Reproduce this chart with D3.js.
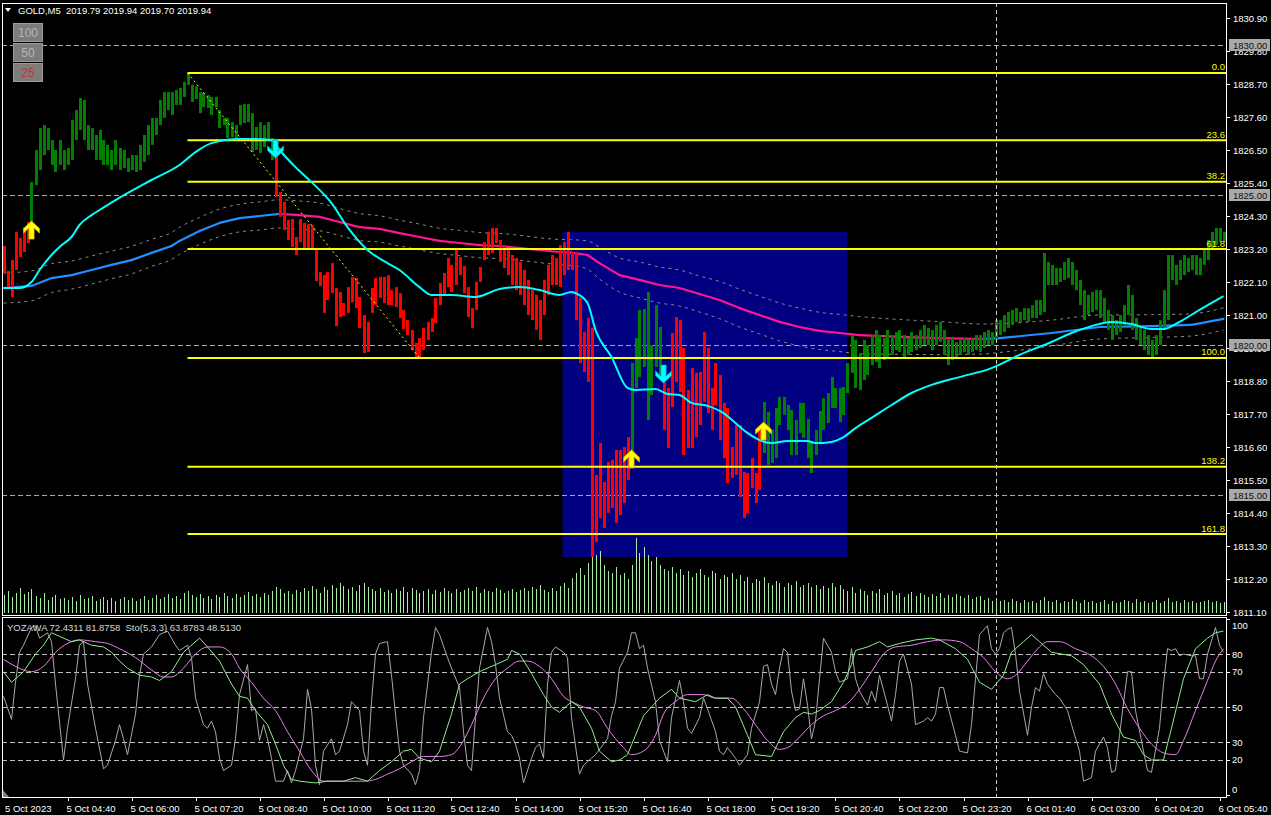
<!DOCTYPE html>
<html><head><meta charset="utf-8">
<script src="https://cdn.jsdelivr.net/npm/d3@7"></script>
<style>html,body{margin:0;padding:0;background:#000;overflow:hidden}svg{display:block}text{font-family:"Liberation Sans",Arial,sans-serif}</style>
</head><body><svg id="c" width="1271" height="815"></svg>
<script>
// ---------------- DATA ----------------
const symbolHeader = "GOLD,M5  2019.79 2019.94 2019.70 2019.94";
const oscHeader = "YOZAWA 72.4311 81.8758  Sto(5,3,3) 63.8783 48.5130";
const timeLabels = ["5 Oct 2023","5 Oct 04:40","5 Oct 06:00","5 Oct 07:20","5 Oct 08:40","5 Oct 10:00","5 Oct 11:20","5 Oct 12:40","5 Oct 14:00","5 Oct 15:20","5 Oct 16:40","5 Oct 18:00","5 Oct 19:20","5 Oct 20:40","5 Oct 22:00","5 Oct 23:20","6 Oct 01:40","6 Oct 03:00","6 Oct 04:20","6 Oct 05:40"];
const timeLabelIdx = [0,16,32,48,64,80,96,112,128,144,160,176,192,208,224,240,256,272,288,304];
const priceTicks = [1811.10,1812.20,1813.30,1814.40,1815.50,1816.60,1817.70,1818.80,1819.90,1821.00,1822.10,1823.20,1824.30,1825.40,1826.50,1827.60,1828.70,1829.80,1830.90];
const priceMarks = [1830.00,1825.00,1820.00,1815.00];
const oscLabels = [100,80,70,50,30,20,0];
const oscLevels = [80,70,50,30,20];
const daySeparatorIdx = 248;

const barHigh = [
1823.30,1822.47,1822.83,1823.77,1823.57,1823.93,1824.10,1825.43,1826.50,1827.23,
1827.33,1827.23,1826.83,1826.50,1826.83,1826.50,1826.57,1827.50,1827.83,1828.23,
1828.17,1827.33,1827.23,1827.00,1827.17,1826.83,1826.67,1826.50,1826.83,1826.57,
1826.50,1826.23,1826.33,1826.33,1826.67,1827.00,1827.33,1827.57,1827.57,1828.17,
1828.43,1828.43,1828.43,1828.50,1828.57,1828.77,1829.07,1828.67,1828.63,1828.43,
1828.40,1828.33,1828.27,1828.27,1827.83,1827.57,1827.57,1827.43,1827.33,1828.00,
1828.03,1828.03,1827.73,1827.27,1827.43,1827.33,1827.43,1826.90,1826.27,1825.10,
1824.77,1824.17,1824.20,1823.60,1824.20,1824.07,1824.03,1824.00,1823.17,1822.43,
1822.33,1822.43,1822.73,1821.90,1821.77,1821.40,1821.93,1822.27,1822.23,1821.60,
1821.00,1820.77,1821.90,1822.23,1822.27,1822.27,1822.33,1821.83,1821.93,1821.73,
1821.17,1820.83,1820.50,1820.07,1820.23,1820.57,1820.77,1820.90,1821.57,1822.07,
1822.40,1822.90,1822.67,1823.23,1822.93,1822.63,1821.93,1821.23,1822.10,1822.60,
1823.43,1823.77,1823.90,1823.90,1823.50,1823.33,1823.17,1823.00,1822.90,1822.77,
1822.50,1822.17,1821.83,1821.67,1821.50,1822.17,1822.67,1823.00,1822.90,1823.33,
1823.43,1823.77,1823.10,1823.10,1821.57,1820.43,1820.90,1820.57,1815.67,1816.73,
1815.43,1816.10,1816.17,1816.50,1816.50,1816.60,1816.93,1819.40,1820.23,1821.17,
1821.20,1821.77,1820.00,1821.33,1820.60,1818.77,1818.57,1820.40,1820.93,1820.83,
1819.90,1818.50,1819.23,1819.07,1819.10,1820.43,1819.90,1818.57,1819.40,1819.00,
1818.07,1817.90,1816.60,1817.33,1817.33,1815.77,1815.73,1816.23,1815.73,1817.17,
1818.10,1817.77,1817.17,1817.90,1818.27,1818.27,1818.00,1817.83,1817.50,1818.07,
1818.07,1817.53,1816.77,1817.17,1817.80,1818.23,1818.40,1818.93,1818.57,1818.57,
1818.60,1819.40,1820.33,1820.17,1819.73,1820.17,1820.00,1820.33,1820.50,1820.33,
1820.23,1820.50,1820.33,1820.43,1820.50,1820.33,1820.23,1820.43,1820.33,1820.50,
1820.67,1820.57,1820.50,1820.67,1820.77,1820.50,1820.17,1820.23,1820.10,1820.17,
1820.23,1820.17,1820.23,1820.33,1820.33,1820.43,1820.50,1820.43,1820.83,1820.83,
1821.00,1821.10,1821.17,1821.23,1821.10,1821.23,1821.23,1821.33,1821.50,1821.50,
1823.07,1822.77,1822.67,1822.57,1822.57,1822.77,1822.90,1822.77,1822.50,1822.17,
1821.83,1821.67,1821.77,1821.83,1821.83,1821.57,1821.17,1821.00,1820.83,1821.00,
1821.33,1822.00,1821.67,1820.90,1820.67,1820.50,1820.33,1820.17,1820.33,1820.83,
1821.83,1823.00,1823.00,1822.67,1822.83,1823.00,1822.90,1823.00,1823.00,1822.90,
1823.17,1823.50,1823.77,1823.90,1823.90,1823.77];
const barLow = [
1822.40,1821.90,1821.60,1822.50,1822.93,1823.10,1823.40,1824.10,1825.33,1825.83,
1826.33,1826.50,1826.00,1825.77,1826.00,1825.83,1826.00,1826.17,1826.83,1827.17,
1826.83,1826.50,1826.50,1826.17,1826.17,1826.00,1826.00,1825.83,1826.00,1825.83,
1825.90,1825.77,1825.83,1825.77,1825.83,1826.10,1826.33,1826.67,1827.00,1827.33,
1827.57,1827.83,1827.67,1828.00,1828.00,1828.27,1828.67,1828.10,1828.20,1827.73,
1827.93,1827.90,1827.67,1827.93,1827.23,1827.33,1826.90,1826.93,1826.90,1827.33,
1827.40,1827.43,1826.43,1826.50,1826.40,1826.60,1826.83,1826.17,1824.93,1824.27,
1823.83,1823.50,1823.27,1823.00,1823.43,1823.17,1823.23,1823.17,1822.13,1821.97,
1821.07,1821.50,1821.73,1820.63,1820.93,1820.97,1821.07,1821.43,1821.23,1820.57,
1819.73,1819.77,1821.07,1821.33,1821.57,1821.40,1821.33,1821.33,1821.27,1820.90,
1820.53,1820.33,1819.83,1819.60,1819.60,1819.83,1820.17,1820.43,1820.73,1821.33,
1821.67,1821.93,1821.77,1822.00,1822.33,1821.73,1820.93,1820.57,1821.17,1822.10,
1822.83,1823.00,1823.07,1823.40,1822.77,1822.57,1822.33,1822.00,1821.83,1821.67,
1821.33,1821.00,1820.83,1820.50,1820.17,1821.00,1821.67,1822.00,1822.00,1821.93,
1822.33,1822.50,1822.50,1820.83,1819.40,1819.10,1818.77,1812.93,1813.43,1814.23,
1813.90,1814.40,1814.57,1814.07,1814.33,1814.73,1815.50,1816.40,1818.57,1818.93,
1819.27,1817.50,1818.33,1819.27,1818.93,1817.17,1816.57,1817.93,1818.77,1818.43,
1816.33,1816.57,1816.57,1816.93,1817.33,1818.10,1817.73,1817.17,1818.00,1816.83,
1816.23,1815.40,1815.57,1815.67,1814.93,1814.23,1814.40,1815.23,1814.73,1815.17,
1816.40,1816.00,1816.07,1816.23,1817.33,1817.67,1817.17,1816.33,1816.33,1817.07,
1816.90,1816.23,1815.73,1816.33,1816.73,1817.17,1817.40,1817.90,1817.90,1817.43,
1817.67,1818.40,1819.07,1818.57,1818.50,1818.83,1819.00,1819.33,1819.43,1819.23,
1819.50,1819.57,1819.67,1819.83,1819.77,1819.57,1819.67,1819.77,1819.83,1819.90,
1820.00,1820.00,1819.83,1820.00,1820.10,1819.67,1819.33,1819.50,1819.57,1819.67,
1819.77,1819.67,1819.77,1819.83,1819.77,1819.90,1820.00,1820.00,1820.17,1820.33,
1820.43,1820.57,1820.67,1820.77,1820.77,1820.83,1820.77,1820.90,1820.90,1821.00,
1821.10,1822.00,1822.00,1822.00,1822.10,1822.17,1822.23,1822.00,1821.83,1821.33,
1820.83,1821.00,1821.10,1821.17,1820.90,1820.77,1820.50,1820.17,1820.33,1820.43,
1820.67,1821.00,1820.50,1820.17,1820.00,1819.83,1819.67,1819.57,1819.67,1820.00,
1820.50,1820.83,1822.17,1822.00,1822.17,1822.33,1822.43,1822.50,1822.33,1822.33,
1822.67,1822.83,1823.17,1823.33,1823.43,1823.43];
// trend colour segments: [first bar index, 1 = up (green), -1 = down (red)]
const trendSegments = [[0,-1],[7,1],[68,-1],[157,1],[165,-1],[190,1]];

const volumes = [
18,22,16,20,25,19,21,24,17,15,20,13,16,18,14,15,
13,16,12,18,14,15,17,12,14,16,13,15,12,14,16,13,
15,12,14,17,13,15,18,14,16,19,15,17,14,20,22,18,
16,19,15,17,14,18,16,20,17,15,19,16,18,21,17,19,
16,20,18,22,26,24,20,22,19,23,21,25,22,27,24,20,
26,23,28,25,30,27,24,26,22,28,30,26,24,22,25,21,
23,20,24,22,26,21,25,23,20,22,24,19,23,21,25,22,
20,24,21,23,25,22,26,20,24,22,21,25,23,20,22,24,
21,23,25,22,26,24,28,23,21,25,22,27,30,25,35,40,
45,38,50,72,58,62,48,42,40,46,38,40,34,48,75,60,
66,58,52,56,48,44,42,46,40,44,38,42,36,40,44,38,
36,42,40,34,38,36,40,34,38,32,36,30,34,32,36,30,
28,32,30,26,30,28,32,26,28,30,26,28,24,27,25,30,
26,28,24,22,26,20,24,22,18,22,20,24,18,20,22,18,
20,16,19,21,17,20,18,16,19,17,20,15,18,16,19,17,
15,18,14,16,17,13,15,12,14,12,13,11,14,12,10,13,
11,12,10,13,16,12,11,13,10,12,11,14,12,10,13,11,
12,10,11,13,9,12,10,11,13,12,10,14,11,12,10,11,
13,10,12,15,11,12,10,13,11,12,10,11,12,13,11,12,
10,11];

// fast moving average (cyan): [bar index, price]
const fastMA = [[0,1821.90],[4,1821.90],[7,1822.10],[9,1822.50],[12,1823.00],[14,1823.27],[17,1823.60],[19,1824.00],[22,1824.33],[24,1824.50],[28,1824.83],[37,1825.50],[44,1826.00],[48,1826.43],[52,1826.73],[59,1826.87],[62,1826.87],[67,1826.83],[69,1826.50],[73,1825.93],[77,1825.43],[82,1824.73],[86,1823.93],[91,1823.17],[96,1822.73],[99,1822.50],[104,1821.93],[107,1821.67],[112,1821.67],[118,1821.60],[122,1821.77],[124,1821.87],[129,1821.93],[134,1821.83],[139,1821.67],[142,1821.77],[143,1821.73],[146,1821.40],[148,1820.50],[152,1819.60],[156,1818.57],[158,1818.50],[163,1818.53],[166,1818.37],[169,1818.33],[172,1818.07],[176,1817.97],[180,1817.73],[183,1817.40],[186,1817.07],[189,1816.83],[192,1816.73],[196,1816.80],[201,1816.80],[203,1816.73],[207,1816.77],[210,1816.93],[213,1817.23],[217,1817.57],[222,1818.00],[227,1818.40],[232,1818.67],[239,1818.93],[247,1819.23],[254,1819.67],[262,1820.10],[267,1820.40],[272,1820.63],[277,1820.77],[282,1820.70],[287,1820.53],[290,1820.53],[294,1820.77],[299,1821.17],[305,1821.63]];
// slow moving average (blue rising / pink falling): [bar index, price]
const slowMA = [[0,1821.90],[7,1821.97],[12,1822.23],[17,1822.33],[22,1822.50],[27,1822.67],[32,1822.83],[37,1823.07],[42,1823.30],[44,1823.47],[49,1823.80],[54,1824.07],[59,1824.23],[64,1824.30],[69,1824.37],[74,1824.33],[79,1824.27],[84,1824.10],[89,1823.93],[94,1823.87],[99,1823.73],[104,1823.60],[109,1823.47],[114,1823.40],[119,1823.33],[124,1823.30],[139,1823.10],[142,1823.08],[146,1823.00],[149,1822.73],[154,1822.33],[159,1822.17],[164,1822.00],[169,1821.90],[174,1821.70],[179,1821.50],[184,1821.23],[189,1821.00],[194,1820.77],[199,1820.60],[204,1820.47],[209,1820.40],[214,1820.33],[224,1820.27],[234,1820.23],[245,1820.20],[249,1820.23],[262,1820.40],[274,1820.60],[287,1820.63],[297,1820.67],[305,1820.87]];
// envelope half-width around slow MA (same points as slowMA)
const slowBand = [0.50,0.50,0.48,0.47,0.47,0.46,0.46,0.45,0.45,0.45,0.45,0.46,0.46,0.47,0.47,0.47,0.46,0.45,0.45,0.44,0.43,0.43,0.42,0.42,0.42,0.42,0.42,0.43,0.47,0.53,0.57,0.60,0.60,0.60,0.60,0.62,0.63,0.63,0.63,0.63,0.62,0.62,0.62,0.58,0.55,0.50,0.48,0.43,0.40,0.38,0.37,0.37];

const fibStartIdx = 46, fibEndIdx = 104;
const fibHigh = 1829.07, fibLow = 1819.57;
const fibLevels = [0, 23.6, 38.2, 61.8, 100, 138.2, 161.8];
const fibLabels = ["0.0","23.6","38.2","61.8","100.0","138.2","161.8"];

const boxZone = {from:140, to:211, top:1823.77, bottom:1812.93};
// arrows: [bar index, tip price, direction]
const arrows = [[7,1824.13,"up"],[157,1816.50,"up"],[190,1817.43,"up"],[68,1826.23,"down"],[165,1818.73,"down"]];

// oscillator panel: [bar index, value]
const yozawa = [[0,56],[2,43],[3,64],[4,81],[5,85],[7,95],[8,96],[9,89],[11,92],[12,87],[13,63],[15,20],[16,38],[18,66],[19,85],[20,87],[21,63],[23,38],[25,15],[26,17],[28,31],[29,40],[30,32],[31,23],[33,46],[34,68],[35,80],[37,84],[39,91],[41,93],[43,85],[44,82],[46,85],[47,78],[48,55],[50,40],[51,38],[52,42],[53,36],[54,21],[55,14],[57,17],[58,32],[59,57],[61,74],[62,48],[63,49],[64,31],[65,40],[66,32],[67,21],[68,8],[70,8],[71,14],[72,7],[73,14],[75,32],[76,60],[77,49],[78,17],[79,6],[80,25],[82,32],[83,23],[84,25],[86,40],[87,53],[89,48],[90,25],[91,17],[92,53],[93,80],[94,86],[96,87],[97,68],[98,46],[99,25],[100,17],[102,12],[103,6],[104,14],[105,44],[107,81],[108,95],[109,91],[111,78],[112,72],[114,61],[115,36],[116,17],[117,14],[118,44],[119,72],[121,95],[122,87],[123,74],[124,55],[126,36],[127,34],[128,29],[129,21],[130,7],[132,21],[133,27],[134,29],[135,21],[136,63],[137,81],[138,84],[140,81],[141,78],[142,44],[144,12],[145,17],[147,21],[148,23],[150,29],[151,32],[152,45],[153,53],[154,72],[156,81],[157,92],[158,92],[159,83],[160,85],[161,72],[163,53],[164,31],[166,19],[167,44],[169,65],[170,53],[171,38],[172,35],[174,44],[175,55],[176,49],[178,36],[179,25],[180,23],[181,27],[183,21],[184,17],[186,23],[187,38],[189,53],[190,73],[191,74],[192,63],[193,57],[194,72],[195,83],[196,81],[197,59],[198,48],[199,49],[200,66],[201,51],[202,32],[203,42],[204,66],[205,89],[207,81],[208,70],[209,64],[211,66],[212,83],[213,66],[214,59],[216,51],[217,59],[218,53],[219,68],[221,51],[222,42],[223,57],[224,76],[225,80],[227,63],[228,40],[230,42],[231,44],[232,42],[233,46],[234,61],[235,61],[236,51],[238,34],[239,25],[241,24],[242,40],[243,66],[244,91],[246,96],[247,83],[248,80],[249,83],[250,92],[251,94],[252,95],[253,80],[254,59],[256,34],[257,50],[258,61],[259,59],[260,69],[261,63],[263,57],[264,55],[266,48],[267,40],[269,25],[270,8],[272,10],[273,25],[275,33],[276,27],[277,13],[278,14],[279,34],[281,70],[282,70],[283,48],[285,25],[286,14],[287,13],[289,38],[290,63],[291,83],[292,82],[293,83],[294,79],[295,80],[297,79],[298,79],[299,66],[300,66],[301,80],[303,95],[304,85],[305,81]];
const stoMain = [[0,70],[2,64],[5,70],[8,80],[10,85],[12,92],[14,90],[17,87],[19,88],[22,85],[25,84],[27,81],[29,76],[31,72],[34,68],[37,67],[39,65],[42,70],[45,81],[49,89],[51,84],[54,76],[57,63],[59,56],[61,55],[63,48],[66,40],[68,29],[70,17],[72,9],[74,8],[78,7],[81,8],[85,8],[88,10],[91,8],[94,14],[97,19],[100,25],[102,26],[104,21],[107,19],[109,25],[112,46],[114,63],[116,66],[119,70],[123,74],[126,77],[127,82],[129,80],[132,69],[135,57],[137,50],[139,47],[142,53],[144,50],[147,38],[149,25],[152,19],[154,20],[156,23],[160,45],[164,55],[167,60],[169,55],[173,53],[176,57],[178,55],[181,55],[183,50],[186,34],[188,23],[192,22],[195,36],[198,44],[200,47],[202,46],[204,48],[207,53],[210,64],[212,74],[213,82],[216,84],[219,87],[221,84],[224,86],[228,88],[232,89],[234,88],[238,83],[241,77],[244,64],[247,60],[250,68],[252,81],[255,87],[257,91],[259,87],[262,81],[267,79],[270,74],[274,63],[277,46],[280,33],[283,31],[285,23],[287,20],[290,20],[292,38],[295,66],[298,83],[301,89],[303,92],[305,93]];
const stoSignal = [[0,77],[3,73],[7,70],[10,73],[13,81],[16,86],[19,88],[23,87],[26,86],[29,83],[33,78],[37,71],[40,67],[42,67],[45,72],[48,80],[51,84],[54,84],[57,80],[59,72],[62,64],[65,55],[68,48],[71,36],[74,25],[77,14],[80,8],[85,8],[90,8],[93,9],[96,12],[99,15],[102,19],[105,22],[109,22],[112,23],[115,31],[117,40],[120,55],[123,66],[126,72],[129,76],[131,76],[134,73],[137,66],[140,56],[143,52],[145,50],[148,48],[151,38],[153,32],[155,27],[157,23],[160,25],[163,34],[165,46],[168,53],[171,57],[175,57],[178,55],[182,55],[185,49],[188,40],[191,31],[194,26],[196,27],[199,33],[202,40],[205,45],[208,48],[211,52],[214,60],[217,70],[220,80],[223,84],[227,85],[231,87],[235,88],[239,87],[242,83],[245,78],[248,70],[251,66],[253,68],[256,76],[259,84],[261,87],[264,87],[268,83],[272,79],[275,73],[278,63],[281,49],[284,38],[287,29],[290,24],[293,23],[295,31],[298,48],[301,65],[303,76],[305,83]];

// ---------------- DRAW ----------------
const svg = d3.select("#c");
const W = 1271, H = 815;
const L = 2, R = 1226, mainTop = 3, mainBot = 615, oscTop = 617, oscBot = 797;
svg.append("rect").attr("width",W).attr("height",H).attr("fill","#000");

const x = d3.scaleLinear().domain([0,305]).range([3.5,1223.5]);
const y = d3.scaleLinear().domain([1811.1,1830.9]).range([612,18]);
const yo = d3.scaleLinear().domain([0,100]).range([795.3,618.7]);
const yv = d3.scaleLinear().domain([0,100]).range([613,513]);

const defs = svg.append("defs");
defs.append("clipPath").attr("id","cm").append("rect").attr("x",L+1).attr("y",mainTop+1).attr("width",R-L-1).attr("height",mainBot-mainTop-1);
defs.append("clipPath").attr("id","co").append("rect").attr("x",L+1).attr("y",oscTop+1).attr("width",R-L-1).attr("height",oscBot-oscTop-1);

const gm = svg.append("g").attr("clip-path","url(#cm)");
const go = svg.append("g").attr("clip-path","url(#co)");

// box zone
gm.append("rect").attr("x",x(boxZone.from)-1).attr("y",y(boxZone.top))
  .attr("width",x(boxZone.to)-x(boxZone.from)+1).attr("height",y(boxZone.bottom)-y(boxZone.top))
  .attr("fill","#000080");

// round-price dashed lines
gm.selectAll("line.pm").data(priceMarks).enter().append("line")
  .attr("x1",L).attr("x2",R).attr("y1",d=>Math.round(y(d))+0.5).attr("y2",d=>Math.round(y(d))+0.5)
  .attr("stroke","#a8a8a8").attr("stroke-width",1).attr("stroke-dasharray","5,3");

// day separator
svg.append("line").attr("x1",Math.round(x(daySeparatorIdx))+0.5).attr("x2",Math.round(x(daySeparatorIdx))+0.5)
  .attr("y1",mainTop).attr("y2",oscBot).attr("stroke","#c8c8c8").attr("stroke-dasharray","4,3");

// volumes
gm.selectAll("line.vol").data(volumes).enter().append("line")
  .attr("x1",(d,i)=>Math.round(x(i))+0.5).attr("x2",(d,i)=>Math.round(x(i))+0.5)
  .attr("y1",yv(0)).attr("y2",d=>yv(d)).attr("stroke","#a6eaa6").attr("stroke-width",1);

// envelopes
const lineP = d3.line().x(d=>x(d[0])).y(d=>y(d[1])).curve(d3.curveMonotoneX);
const upper = slowMA.map((d,k)=>[d[0], d[1]+slowBand[k]]);
const lower = slowMA.map((d,k)=>[d[0], d[1]-slowBand[k]]);
[upper,lower].forEach(s=>{
  gm.append("path").attr("d",lineP(s)).attr("fill","none").attr("stroke","#8a8a8a").attr("stroke-width",1).attr("stroke-dasharray","3,4");
});

// slow MA coloured by direction
for (let k=0;k<slowMA.length-1;k++){
  const a = slowMA[k], b = slowMA[k+1];
  const col = b[1] >= a[1] ? "#1e90ff" : "#ff1493";
  gm.append("path").attr("d",d3.line().x(d=>x(d[0])).y(d=>y(d[1]))([a,b]))
    .attr("fill","none").attr("stroke",col).attr("stroke-width",2.2).attr("stroke-linecap","round");
}

// bars
function trendAt(i){ let t = trendSegments[0][1]; for (const s of trendSegments){ if (i>=s[0]) t=s[1]; } return t; }
gm.selectAll("rect.bar").data(barHigh).enter().append("rect")
  .attr("x",(d,i)=>Math.round(x(i))-1).attr("width",3)
  .attr("y",(d,i)=>y(barHigh[i])).attr("height",(d,i)=>Math.max(1,y(barLow[i])-y(barHigh[i])))
  .attr("fill",(d,i)=>trendAt(i)>0 ? "#008000" : "#ff0000");

// fib
const fibPrice = l => fibHigh - (fibHigh-fibLow)*l/100;
gm.append("line").attr("x1",x(fibStartIdx)).attr("y1",y(fibHigh)).attr("x2",x(fibEndIdx)).attr("y2",y(fibLow))
  .attr("stroke","#ffff00").attr("stroke-width",1).attr("stroke-dasharray","2,3");
gm.selectAll("line.fib").data(fibLevels).enter().append("line")
  .attr("x1",x(fibStartIdx)).attr("x2",R).attr("y1",d=>y(fibPrice(d))).attr("y2",d=>y(fibPrice(d)))
  .attr("stroke","#ffff00").attr("stroke-width",2);
gm.selectAll("text.fib").data(fibLevels).enter().append("text")
  .attr("x",R-1).attr("y",d=>y(fibPrice(d))-2.5).attr("text-anchor","end")
  .attr("fill","#ffff00").attr("font-size","9.5px").text((d,k)=>fibLabels[k]);

// fast MA
gm.append("path").attr("d",lineP(fastMA)).attr("fill","none").attr("stroke","#00ffff").attr("stroke-width",2);

// arrows
const upShape = [[0,0],[8,7.5],[8,12],[2.6,7],[2.6,18],[-2.6,18],[-2.6,7],[-8,12],[-8,7.5]];
arrows.forEach(a=>{
  const cx = x(a[0]), cy = y(a[1]);
  const s = a[2]==="up" ? 1 : -1;
  const pts = upShape.map(p=>[cx+p[0], cy+s*p[1]]);
  gm.append("path").attr("d","M"+pts.map(p=>p.join(",")).join("L")+"Z")
    .attr("fill",a[2]==="up" ? "#ffff00" : "#00ffff")
    .attr("stroke",a[2]==="up" ? "#d9a400" : "#00a8b0").attr("stroke-width",0.8);
});

// oscillator levels & lines
go.selectAll("line.ol").data(oscLevels).enter().append("line")
  .attr("x1",L).attr("x2",R).attr("y1",d=>Math.round(yo(d))+0.5).attr("y2",d=>Math.round(yo(d))+0.5)
  .attr("stroke","#c0c0c0").attr("stroke-dasharray","5,3");
const lineO = d3.line().x(d=>x(d[0])).y(d=>yo(d[1]));
go.append("path").attr("d",lineO(yozawa)).attr("fill","none").attr("stroke","#a9a9a9").attr("stroke-width",1);
go.append("path").attr("d",lineO.curve(d3.curveMonotoneX)(stoSignal)).attr("fill","none").attr("stroke","#ee82ee").attr("stroke-width",1);
go.append("path").attr("d",d3.line().x(d=>x(d[0])).y(d=>yo(d[1]))(stoMain)).attr("fill","none").attr("stroke","#90ee90").attr("stroke-width",1);

// frames
svg.append("rect").attr("x",L+0.5).attr("y",mainTop+0.5).attr("width",R-L).attr("height",mainBot-mainTop).attr("fill","none").attr("stroke","#fff");
svg.append("rect").attr("x",L+0.5).attr("y",oscTop+0.5).attr("width",R-L).attr("height",oscBot-oscTop).attr("fill","none").attr("stroke","#fff");

// price axis
svg.selectAll("line.pt").data(priceTicks).enter().append("line")
  .attr("x1",R).attr("x2",R+4).attr("y1",d=>Math.round(y(d))+0.5).attr("y2",d=>Math.round(y(d))+0.5).attr("stroke","#fff");
svg.selectAll("text.pt").data(priceTicks).enter().append("text")
  .attr("x",1233).attr("y",d=>y(d)+3.5).attr("fill","#fff").attr("font-size","9.5px").text(d=>d.toFixed(2));
priceMarks.forEach(p=>{
  svg.append("rect").attr("x",1229).attr("y",y(p)-6).attr("width",41).attr("height",12).attr("fill","#a9a9a9");
  svg.append("text").attr("x",1233).attr("y",y(p)+3.5).attr("fill","#101010").attr("font-size","9.5px").text(p.toFixed(2));
});

// osc axis
svg.selectAll("line.ot").data(oscLabels).enter().append("line")
  .attr("x1",R).attr("x2",R+4).attr("y1",d=>Math.round(yo(d))+0.5).attr("y2",d=>Math.round(yo(d))+0.5).attr("stroke","#fff");
svg.selectAll("text.ot").data(oscLabels).enter().append("text")
  .attr("x",1232).attr("y",d=>Math.min(Math.max(yo(d),625),789)+3.5).attr("fill","#fff").attr("font-size","9.5px").text(d=>d);

// time axis
svg.selectAll("line.tt").data(timeLabelIdx.slice(1)).enter().append("line")
  .attr("x1",d=>Math.round(x(d))+0.5).attr("x2",d=>Math.round(x(d))+0.5).attr("y1",oscBot).attr("y2",oscBot+4).attr("stroke","#fff");
svg.selectAll("text.tt").data(timeLabelIdx).enter().append("text")
  .attr("x",(d,k)=>k===0 ? 5 : x(d)-1).attr("y",811.5).attr("fill","#fff").attr("font-size","9.5px").text((d,k)=>timeLabels[k]);
svg.append("path").attr("d","M3,790L3,797L9,797Z").attr("fill","#808080");

// headers
svg.append("path").attr("d","M5,8L11,8L8,12Z").attr("fill","#fff");
svg.append("text").attr("x",18).attr("y",14).attr("fill","#fff").attr("font-size","9.5px").attr("xml:space","preserve").text(symbolHeader);
svg.append("text").attr("x",7).attr("y",630.5).attr("fill","#d8d8d8").attr("font-size","9.5px").attr("xml:space","preserve").text(oscHeader);

// scale buttons
const btns = [["100","#b4b4b4"],["50","#b4b4b4"],["25","#c83232"]];
btns.forEach((b,k)=>{
  const by = 23 + k*20;
  svg.append("rect").attr("x",13.5).attr("y",by+0.5).attr("width",29).attr("height",18).attr("fill","#7c7c7c").attr("stroke","#9c9c9c");
  svg.append("text").attr("x",28).attr("y",by+14).attr("text-anchor","middle").attr("fill",b[1]).attr("font-size","12px").text(b[0]);
});
</script>
</body></html>
